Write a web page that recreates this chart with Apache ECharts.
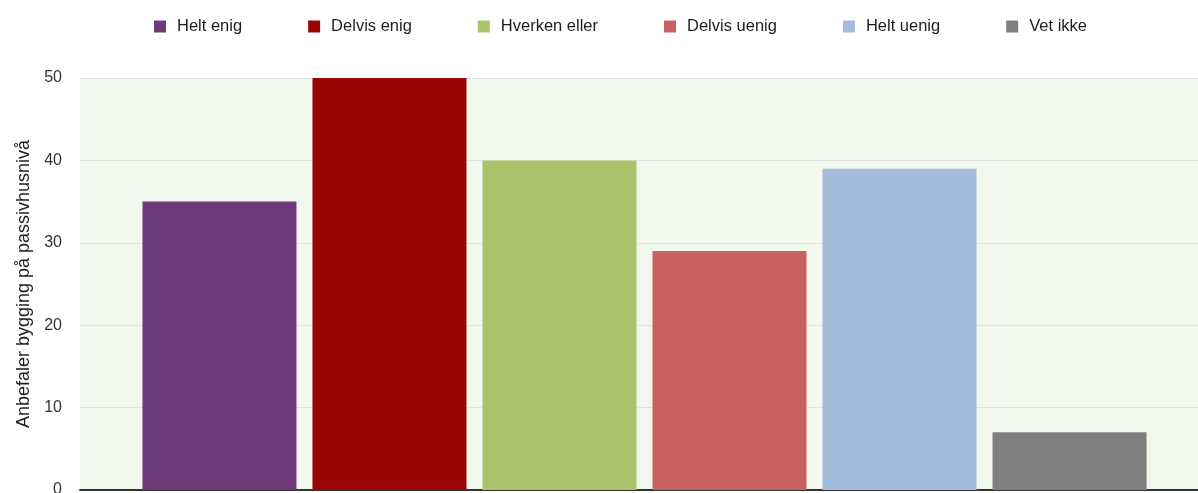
<!DOCTYPE html>
<html>
<head>
<meta charset="utf-8">
<script src="https://cdn.jsdelivr.net/npm/echarts@6/dist/echarts.min.js"></script>
<style>html,body{margin:0;padding:0;background:#fff;overflow:hidden;width:100%;height:100%;}#c{width:100vw;height:100vh;}</style>
</head>
<body>
<div id="c"></div>
<script>
var categories = ['Helt enig', 'Delvis enig', 'Hverken eller', 'Delvis uenig', 'Helt uenig', 'Vet ikke'];
var values = [35, 50, 40, 29, 39, 7];
var colors = ['#6f3a78', '#990505', '#abc46c', '#c9625f', '#a4bcdc', '#7f7f7f'];
var yTicks = { min: 0, max: 50, interval: 10 };
var yName = 'Anbefaler bygging på passivhusnivå';

var series = categories.map(function (name, i) {
  return {
    name: name,
    type: 'bar',
    data: [values[i]],
    barWidth: 154,
    barGap: '10.4%',
    itemStyle: { color: colors[i] },
    emphasis: { disabled: true }
  };
});

var chart = echarts.init(document.getElementById('c'));
chart.setOption({
  animation: false,
  textStyle: { fontFamily: 'Liberation Sans, Arial, sans-serif' },
  legend: {
    data: categories,
    left: 149,
    top: 13,
    icon: 'rect',
    itemWidth: 12,
    itemHeight: 12,
    itemGap: 66,
    textStyle: { fontSize: 16.5, color: '#1e1e1e', padding: [0, 0, 0, 6] }
  },
  grid: {
    left: 80, right: -11, top: 78, bottom: 3,
    outerBoundsMode: 'none',
    containLabel: false,
    show: true, backgroundColor: '#f3f8ee', borderWidth: 0
  },
  xAxis: {
    type: 'category',
    data: [''],
    axisLine: { show: true, lineStyle: { color: '#333', width: 2 } },
    axisTick: { show: false },
    axisLabel: { show: false },
    splitLine: { show: false }
  },
  yAxis: {
    type: 'value',
    min: yTicks.min, max: yTicks.max, interval: yTicks.interval,
    name: yName,
    nameLocation: 'middle',
    nameGap: 47,
    nameTextStyle: { fontSize: 18, color: '#1e1e1e' },
    axisLine: { show: false },
    axisTick: { show: false },
    axisLabel: { fontSize: 16, color: '#333', margin: 18, padding: [4, 0, 0, 0] },
    splitLine: { show: true, lineStyle: { color: '#e2e5df', width: 1 } }
  },
  series: series
});
window.addEventListener('resize', function () { chart.resize(); });
</script>
</body>
</html>
